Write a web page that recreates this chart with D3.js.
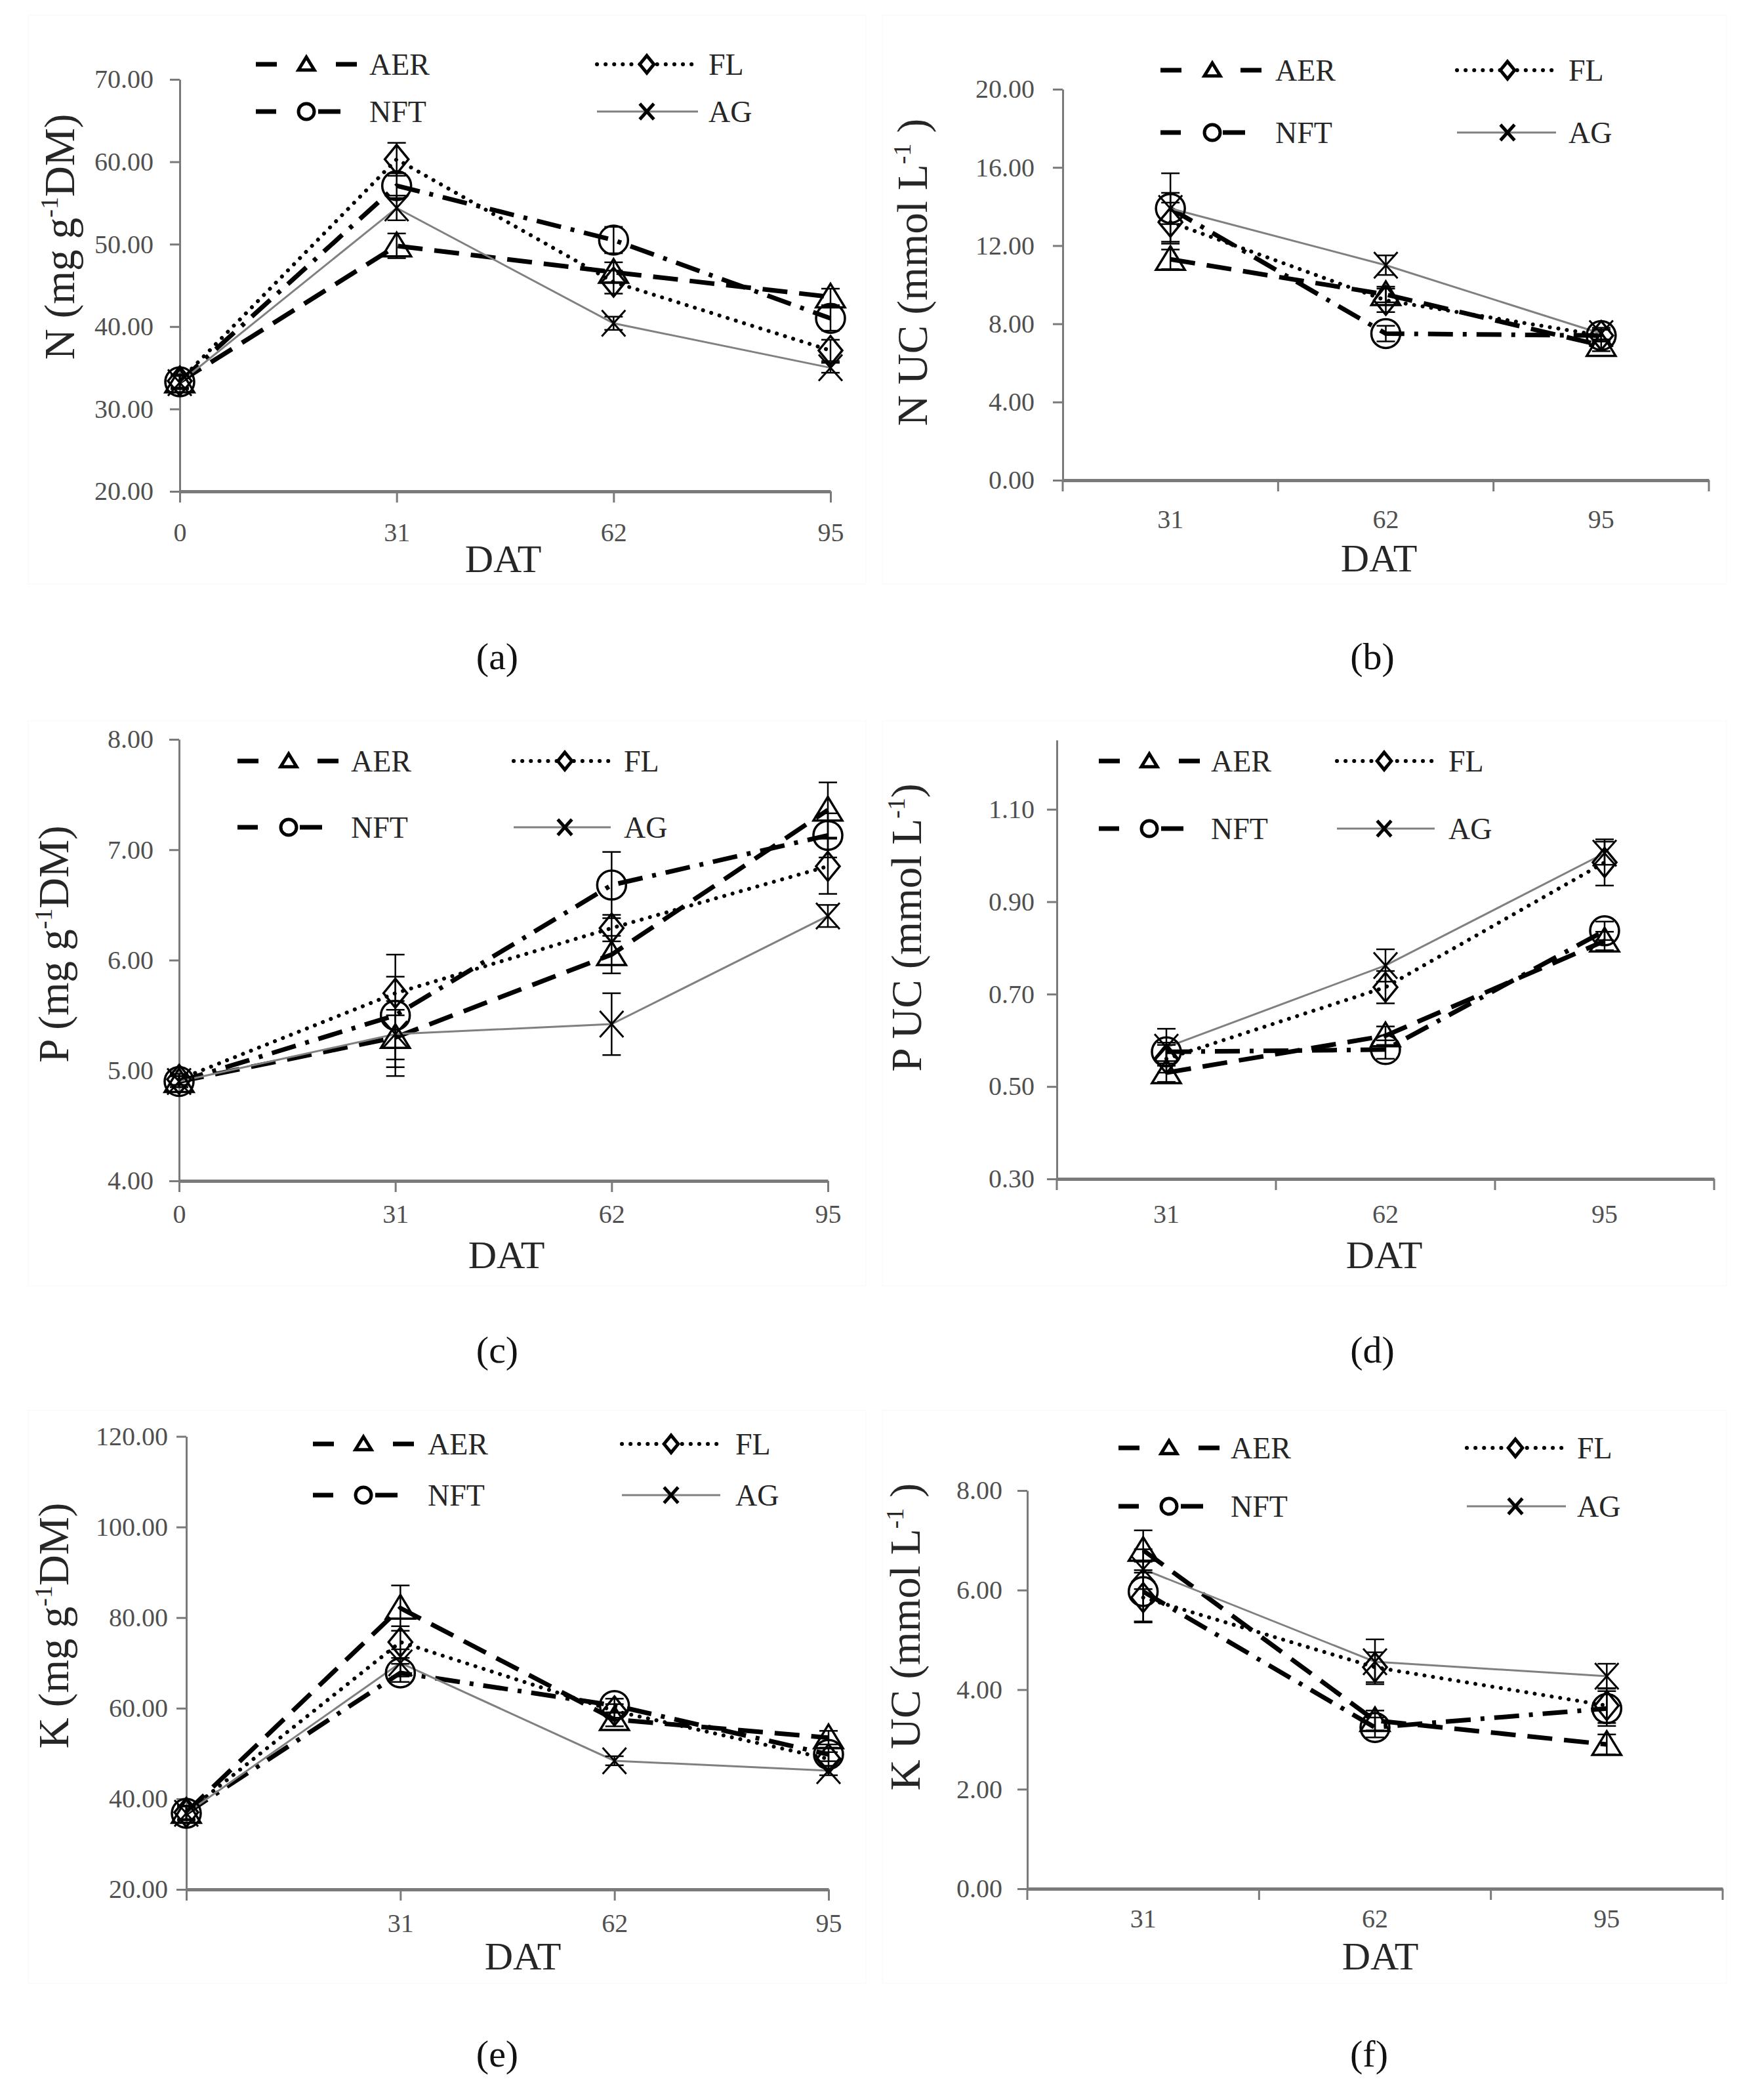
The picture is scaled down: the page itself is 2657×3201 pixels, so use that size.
<!DOCTYPE html>
<html>
<head>
<meta charset="utf-8">
<script src="https://cdn.jsdelivr.net/npm/d3@7"></script>
<style>
  body { margin: 0; background: #fff; }
  svg  { display: block; font-family: "Liberation Serif", "Times New Roman", serif; }
  .tick-label  { fill: #505050; font-size: 40px; }
  .axis-title  { fill: #262626; font-size: 65px; }
  .dat-title   { fill: #262626; font-size: 60px; }
  .legend-text { fill: #262626; font-size: 46px; }
  .panel-label { fill: #111; font-size: 58px; }
</style>
</head>
<body>
<svg id="fig" width="2657" height="3201"></svg>
<script>
const SERIES  = ["AER", "FL", "NFT", "AG"];
const DAT_ALL = ["0", "31", "62", "95"];
const DAT_UC  = ["31", "62", "95"];

// rows follow SERIES order: AER, FL, NFT, AG
const N_DM     = [[33.3, 49.8, 46.6, 43.6], [33.4, 60.3, 45.4, 37.1], [33.3, 57.1, 50.5, 41.0], [33.2, 54.4, 40.4, 35.0]];
const N_DM_ERR = [[0.8, 1.5, 1.2, 1.0], [0.8, 2.0, 1.4, 1.3], [0.8, 1.5, 1.6, 1.5], [0.8, 1.5, 0.8, 0.6]];
const N_UC     = [[11.3, 9.5, 6.9], [13.2, 9.2, 7.4], [13.9, 7.5, 7.4], [13.9, 11.0, 7.5]];
const N_UC_ERR = [[0.5, 0.4, 0.3], [1.0, 0.6, 0.3], [0.8, 0.4, 0.3], [1.8, 0.5, 0.3]];
const P_DM     = [[4.90, 5.30, 6.05, 7.36], [4.92, 5.70, 6.29, 6.85], [4.90, 5.50, 6.68, 7.13], [4.90, 5.33, 5.42, 6.40]];
const P_DM_ERR = [[0.05, 0.20, 0.17, 0.25], [0.05, 0.15, 0.12, 0.25], [0.05, 0.55, 0.30, 0.20], [0.05, 0.30, 0.28, 0.10]];
const P_UC     = [[0.53, 0.61, 0.815], [0.56, 0.715, 0.985], [0.575, 0.58, 0.837], [0.585, 0.762, 1.005]];
const P_UC_ERR = [[0.02, 0.02, 0.02], [0.03, 0.035, 0.05], [0.02, 0.02, 0.02], [0.04, 0.035, 0.025]];
const K_DM     = [[37.0, 82.1, 57.5, 53.5], [37.0, 74.6, 59.4, 48.8], [36.8, 67.8, 60.6, 49.8], [36.8, 70.0, 48.4, 46.2]];
const K_DM_ERR = [[1.5, 5.0, 1.5, 1.5], [1.5, 3.5, 1.5, 1.5], [1.5, 2.0, 1.5, 1.5], [1.5, 3.0, 1.0, 1.0]];
const K_UC     = [[6.80, 3.38, 2.90], [5.85, 4.45, 3.68], [5.97, 3.24, 3.62], [6.42, 4.56, 4.27]];
const K_UC_ERR = [[0.4, 0.2, 0.2], [0.5, 0.3, 0.35], [0.6, 0.2, 0.35], [0.4, 0.45, 0.25]];

const N_DM_TICKS = [20, 30, 40, 50, 60, 70];
const N_UC_TICKS = [0, 4, 8, 12, 16, 20];
const P_DM_TICKS = [4, 5, 6, 7, 8];
const P_UC_TICKS = [0.3, 0.5, 0.7, 0.9, 1.1];
const K_DM_TICKS = [20, 40, 60, 80, 100, 120];
const K_UC_TICKS = [0, 2, 4, 6, 8];

const AXIS_COLOR = "#7a7a7a";

const STYLES = {
  AER: { color: "#000", width: 7, dash: "38,18",      cap: "butt",  marker: "triangle", legDash: "32,90,40", legCut: 0 },
  FL:  { color: "#000", width: 6, dash: "0.1,13",     cap: "round", marker: "diamond",  legDash: "0.1,13",   legCut: 0 },
  NFT: { color: "#000", width: 7, dash: "38,15,6,15", cap: "butt",  marker: "circle",   legDash: "31,64,40", legCut: 25 },
  AG:  { color: "#808080", width: 3, dash: null,      cap: "butt",  marker: "x",        legDash: null,       legCut: 0 },
};

const PANELS = [
  { label: "(a)", cats: DAT_ALL, vals: N_DM, errs: N_DM_ERR, ticks: N_DM_TICKS, domain: [20, 70], xType: "point",
    x0: 274, x1: 1266, yTop: 121, yBot: 749, yGap: 40, xLabelOff: 76,
    title: ["N (mg g", "-1", "DM)"], titleAt: [90, 361], datAt: [767, 872], labelAt: [758, 1020],
    legRows: [98, 170], legCols: [[390, 544, 467, 563], [910, 1064, 986, 1080]], frame: [43, 23, 1320, 890] },
  { label: "(b)", cats: DAT_UC, vals: N_UC, errs: N_UC_ERR, ticks: N_UC_TICKS, domain: [0, 20], xType: "band",
    x0: 1620, x1: 2605, yTop: 136, yBot: 732, yGap: 43, xLabelOff: 73,
    title: ["N UC (mmol L", "-1", " )"], titleAt: [1390, 415], datAt: [2102, 871], labelAt: [2092, 1020],
    legRows: [107, 202], legCols: [[1769, 1923, 1848, 1944], [2221, 2372, 2298, 2391]], frame: [1345, 23, 2632, 890] },
  { label: "(c)", cats: DAT_ALL, vals: P_DM, errs: P_DM_ERR, ticks: P_DM_TICKS, domain: [4, 8], xType: "point",
    x0: 273, x1: 1262, yTop: 1127, yBot: 1800, yGap: 39, xLabelOff: 64,
    title: ["P (mg g", "-1", "DM)"], titleAt: [81, 1439], datAt: [772, 1933], labelAt: [758, 2077],
    legRows: [1160, 1261], legCols: [[362, 516, 440, 535], [783, 931, 861, 951]], frame: [43, 1099, 1320, 1960] },
  { label: "(d)", cats: DAT_UC, vals: P_UC, errs: P_UC_ERR, ticks: P_UC_TICKS, domain: [0.3, 1.25], xType: "band",
    x0: 1611, x1: 2613, yTop: 1128, yBot: 1797, yGap: 34, xLabelOff: 67,
    title: ["P UC (mmol L", "-1", ")"], titleAt: [1381, 1414], datAt: [2110, 1933], labelAt: [2092, 2077],
    legRows: [1160, 1263], legCols: [[1675, 1829, 1752, 1846], [2038, 2187, 2110, 2208]], frame: [1345, 1099, 2632, 1960] },
  { label: "(e)", cats: DAT_ALL, vals: K_DM, errs: K_DM_ERR, ticks: K_DM_TICKS, domain: [20, 120], xType: "point", hideZero: true,
    x0: 284, x1: 1263, yTop: 2189.5, yBot: 2880, yGap: 28, xLabelOff: 65,
    title: ["K (mg g", "-1", "DM)"], titleAt: [81, 2478], datAt: [797, 3002], labelAt: [758, 3150],
    legRows: [2201, 2279], legCols: [[477, 631, 554, 652], [948, 1098, 1023, 1121]], frame: [43, 2150, 1320, 3023] },
  { label: "(f)", cats: DAT_UC, vals: K_UC, errs: K_UC_ERR, ticks: K_UC_TICKS, domain: [0, 8], xType: "band",
    x0: 1566, x1: 2626, yTop: 2272, yBot: 2879, yGap: 38, xLabelOff: 59,
    title: ["K UC (mmol L", "-1", " )"], titleAt: [1379, 2495], datAt: [2104, 3002], labelAt: [2087, 3150],
    legRows: [2207, 2296], legCols: [[1705, 1859, 1782, 1876], [2236, 2387, 2310, 2404]], frame: [1345, 2150, 2632, 3023] },
];

const svg = d3.select("#fig");
svg.append("rect").attr("width", 2657).attr("height", 3201).attr("fill", "#fff");

function markerPath(type, r) {
  if (type === "triangle") return `M0,${-r}L${r * 1.1},${r * 0.8}L${-r * 1.1},${r * 0.8}Z`;
  if (type === "diamond")  return `M0,${-r * 1.1}L${r * 0.9},0L0,${r * 1.1}L${-r * 0.9},0Z`;
  if (type === "circle")   return `M${-r},0A${r},${r} 0 1,0 ${r},0A${r},${r} 0 1,0 ${-r},0Z`;
  return `M${-r * 0.9},${-r}L${r * 0.9},${r}M${r * 0.9},${-r}L${-r * 0.9},${r}`;
}

function styleLine(sel, st, dash) {
  return sel.attr("fill", "none")
    .attr("stroke", st.color)
    .attr("stroke-width", st.width)
    .attr("stroke-dasharray", dash)
    .attr("stroke-linecap", st.cap);
}

function drawPanel(p) {
  const g = svg.append("g");

  // chart-area border, barely visible in the original
  g.append("rect")
    .attr("x", p.frame[0]).attr("y", p.frame[1])
    .attr("width", p.frame[2] - p.frame[0]).attr("height", p.frame[3] - p.frame[1])
    .attr("fill", "none").attr("stroke", "#fbfbfb").attr("stroke-width", 2);

  const y = d3.scaleLinear().domain(p.domain).range([p.yBot, p.yTop]);
  let x, cx;
  if (p.xType === "point") {
    x  = d3.scalePoint().domain(p.cats).range([p.x0, p.x1]);
    cx = d => x(d);
  } else {
    x  = d3.scaleBand().domain(p.cats).range([p.x0, p.x1]);
    cx = d => x(d) + x.bandwidth() / 2;
  }

  // y axis
  const yAx = g.append("g").attr("transform", `translate(${p.x0},0)`)
    .call(d3.axisLeft(y).tickValues(p.ticks).tickFormat(d3.format(".2f"))
      .tickSizeInner(15).tickSizeOuter(0).tickPadding(p.yGap - 15))
    .attr("font-size", null).attr("font-family", null);
  yAx.select(".domain").attr("stroke", AXIS_COLOR).attr("stroke-width", 3);
  yAx.selectAll(".tick line").attr("stroke", AXIS_COLOR).attr("stroke-width", 3);
  yAx.selectAll(".tick text").attr("class", "tick-label").attr("fill", null);

  // x axis
  const xAx = g.append("g").attr("transform", `translate(0,${p.yBot})`)
    .call(d3.axisBottom(x).tickSizeInner(p.xType === "point" ? 17 : 0).tickSizeOuter(0)
      .tickFormat(d => (p.hideZero && d === "0") ? "" : d))
    .attr("font-size", null).attr("font-family", null);
  xAx.select(".domain").attr("stroke", AXIS_COLOR).attr("stroke-width", 5);
  xAx.selectAll(".tick line").attr("stroke", AXIS_COLOR).attr("stroke-width", 3);
  xAx.selectAll(".tick text").attr("class", "tick-label").attr("fill", null)
    .attr("y", p.xLabelOff).attr("dy", null);
  if (p.xType === "band") {
    const bounds = p.cats.map(c => x(c)).concat([p.x1]);
    xAx.selectAll(".bound").data(bounds).join("line")
      .attr("class", "bound")
      .attr("x1", d => d).attr("x2", d => d)
      .attr("y1", 0).attr("y2", 17)
      .attr("stroke", AXIS_COLOR).attr("stroke-width", 3);
  }

  // titles
  const t = g.append("text").attr("class", "axis-title")
    .attr("text-anchor", "middle")
    .attr("transform", `translate(${p.titleAt[0]},${p.titleAt[1]}) rotate(-90)`)
    .attr("dy", "0.35em");
  t.append("tspan").text(p.title[0]);
  t.append("tspan").attr("font-size", 38).attr("dy", -25).text(p.title[1]);
  t.append("tspan").attr("dy", 25).text(p.title[2]);

  g.append("text").attr("class", "dat-title").attr("text-anchor", "middle")
    .attr("x", p.datAt[0]).attr("y", p.datAt[1]).text("DAT");
  g.append("text").attr("class", "panel-label").attr("text-anchor", "middle")
    .attr("x", p.labelAt[0]).attr("y", p.labelAt[1]).text(p.label);

  // series lines
  const line = d3.line().x((v, i) => cx(p.cats[i])).y(v => y(v));
  SERIES.forEach((s, si) => {
    styleLine(g.append("path").attr("d", line(p.vals[si])), STYLES[s], STYLES[s].dash);
  });

  // error bars
  SERIES.forEach((s, si) => {
    p.vals[si].forEach((v, i) => {
      const e = p.errs[si][i];
      const xx = cx(p.cats[i]);
      const eb = g.append("g").attr("stroke", "#000").attr("stroke-width", 2.5);
      eb.append("line").attr("x1", xx).attr("x2", xx).attr("y1", y(v - e)).attr("y2", y(v + e));
      eb.append("line").attr("x1", xx - 14).attr("x2", xx + 14).attr("y1", y(v + e)).attr("y2", y(v + e));
      eb.append("line").attr("x1", xx - 14).attr("x2", xx + 14).attr("y1", y(v - e)).attr("y2", y(v - e));
    });
  });

  // markers
  SERIES.forEach((s, si) => {
    const st = STYLES[s];
    g.selectAll(null).data(p.vals[si]).join("path")
      .attr("transform", (v, i) => `translate(${cx(p.cats[i])},${y(v)})`)
      .attr("d", markerPath(st.marker, st.marker === "circle" ? 22 : 20))
      .attr("fill", "none").attr("stroke", "#000")
      .attr("stroke-width", st.marker === "x" ? 3 : 3.5);
  });

  // legend: AER, FL on first row, NFT, AG on second
  SERIES.forEach((s, si) => {
    const st = STYLES[s];
    const row = p.legRows[Math.floor(si / 2)];
    const [lx0, lx1, mx, tx] = p.legCols[si % 2];
    styleLine(g.append("line").attr("x1", lx0).attr("x2", lx1 - st.legCut).attr("y1", row).attr("y2", row), st, st.legDash);
    g.append("path")
      .attr("transform", `translate(${mx},${row})`)
      .attr("d", markerPath(st.marker, st.marker === "triangle" ? 11 : 12))
      .attr("fill", "#fff").attr("stroke", "#000").attr("stroke-width", 5);
    g.append("text").attr("class", "legend-text")
      .attr("x", tx).attr("y", row).attr("dy", "0.35em").text(s);
  });
}

PANELS.forEach(drawPanel);
</script>
</body>
</html>
